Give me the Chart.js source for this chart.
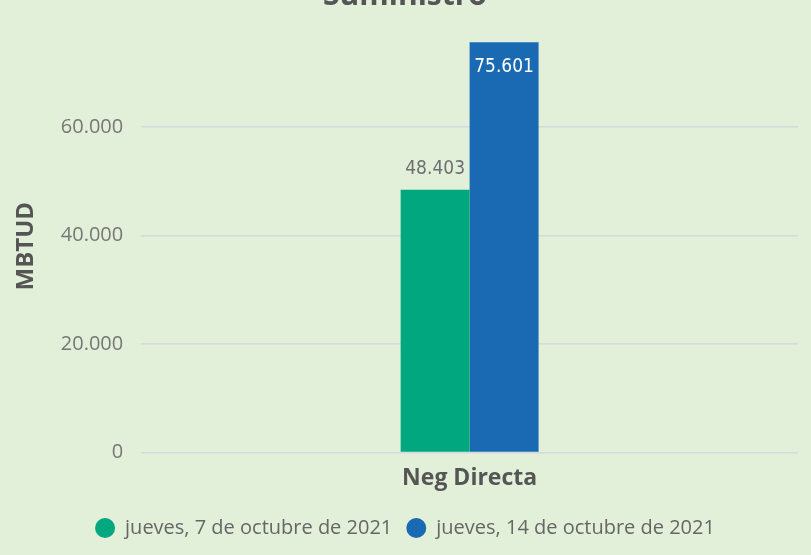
<!DOCTYPE html>
<html>
<head>
<meta charset="utf-8">
<script src="https://cdn.jsdelivr.net/npm/chart.js@4/dist/chart.umd.min.js"></script>
<style>
  html, body { margin: 0; padding: 0; background: #e2efd9; overflow: hidden; }
  #wrap { position: absolute; left: 0; top: -22px; width: 811px; height: 577px; }
</style>
</head>
<body>
<div id="wrap"><canvas id="chart"></canvas></div>
<script>
// --- Dados ---
const categorias = ['Neg Directa'];
const serie7 = [48403];
const serie14 = [75601];
const rotulos = ['jueves, 7 de octubre de 2021', 'jueves, 14 de octubre de 2021'];
const ticksY = [0, 20000, 40000, 60000];

const fmt = v => v.toLocaleString('de-DE');

// rótulos de dados desenhados à mão (sem plugin externo)
const dataLabels = {
  id: 'dataLabels',
  afterDatasetsDraw(chart) {
    const ctx = chart.ctx;
    ctx.save();
    ctx.font = '19px "DejaVu Sans Condensed", "DejaVu Sans"';
    ctx.textAlign = 'center';
    ctx.textBaseline = 'middle';
    chart.data.datasets.forEach((ds, i) => {
      chart.getDatasetMeta(i).data.forEach((bar, j) => {
        const txt = fmt(ds.data[j]);
        if (i === 0) {
          ctx.fillStyle = '#707070';
          ctx.fillText(txt, bar.x, bar.y - 21);
        } else {
          ctx.fillStyle = '#ffffff';
          ctx.fillText(txt, bar.x, bar.y + 25);
        }
      });
    });
    ctx.restore();
  }
};

new Chart(document.getElementById('chart'), {
  type: 'bar',
  data: {
    labels: categorias,
    datasets: [
      { label: rotulos[0], data: serie7, backgroundColor: '#01a77e', categoryPercentage: 0.21, barPercentage: 1 },
      { label: rotulos[1], data: serie14, backgroundColor: '#1a6ab3', categoryPercentage: 0.21, barPercentage: 1 }
    ]
  },
  options: {
    responsive: true,
    maintainAspectRatio: false,
    animation: false,
    layout: { padding: { left: 12, right: 13, bottom: 7 } },
    plugins: {
      title: {
        display: true,
        text: 'Suministro',
        color: '#555555',
        font: { family: 'Open Sans', size: 30, weight: 'bold' },
        padding: { top: 0, bottom: 26 }
      },
      legend: {
        position: 'bottom',
        labels: {
          usePointStyle: true,
          pointStyle: 'circle',
          pointStyleWidth: 20,
          boxHeight: 14,
          color: '#666666',
          font: { family: 'Open Sans', size: 20 },
          padding: 14
        }
      },
      tooltip: { enabled: false }
    },
    scales: {
      x: {
        grid: { display: false },
        border: { display: false },
        ticks: { color: '#555555', font: { family: 'Open Sans', size: 23, weight: 'bold' }, padding: 4 },
        afterFit: axis => { axis.height += 8; }
      },
      y: {
        min: 0,
        max: 76000,
        afterBuildTicks: axis => { axis.ticks = ticksY.map(v => ({ value: v })); },
        grid: { color: '#d5d8de', lineWidth: 1.5, drawTicks: false },
        border: { display: false },
        ticks: { color: '#777777', font: { family: 'Open Sans', size: 20 }, padding: 18, callback: v => fmt(v) },
        title: {
          display: true,
          text: 'MBTUD',
          color: '#555555',
          font: { family: 'Open Sans', size: 24, weight: 'bold' },
          padding: { top: 0, bottom: 2 }
        }
      }
    }
  },
  plugins: [dataLabels]
});
</script>
</body>
</html>
